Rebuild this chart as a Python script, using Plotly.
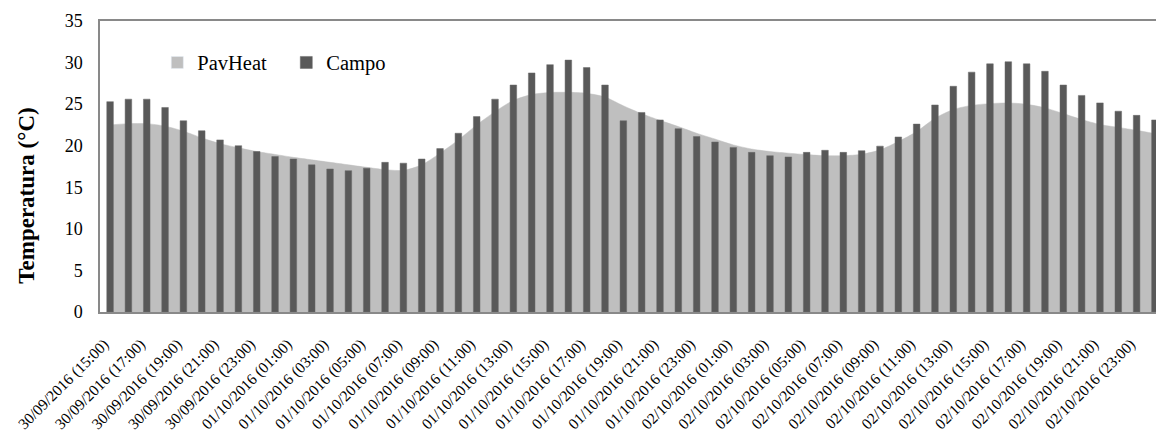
import plotly.graph_objects as go

categories = [
    "30/09/2016 (15:00)", "30/09/2016 (16:00)", "30/09/2016 (17:00)", "30/09/2016 (18:00)",
    "30/09/2016 (19:00)", "30/09/2016 (20:00)", "30/09/2016 (21:00)", "30/09/2016 (22:00)",
    "30/09/2016 (23:00)",
    "01/10/2016 (00:00)", "01/10/2016 (01:00)", "01/10/2016 (02:00)", "01/10/2016 (03:00)",
    "01/10/2016 (04:00)", "01/10/2016 (05:00)", "01/10/2016 (06:00)", "01/10/2016 (07:00)",
    "01/10/2016 (08:00)", "01/10/2016 (09:00)", "01/10/2016 (10:00)", "01/10/2016 (11:00)",
    "01/10/2016 (12:00)", "01/10/2016 (13:00)", "01/10/2016 (14:00)", "01/10/2016 (15:00)",
    "01/10/2016 (16:00)", "01/10/2016 (17:00)", "01/10/2016 (18:00)", "01/10/2016 (19:00)",
    "01/10/2016 (20:00)", "01/10/2016 (21:00)", "01/10/2016 (22:00)", "01/10/2016 (23:00)",
    "02/10/2016 (00:00)", "02/10/2016 (01:00)", "02/10/2016 (02:00)", "02/10/2016 (03:00)",
    "02/10/2016 (04:00)", "02/10/2016 (05:00)", "02/10/2016 (06:00)", "02/10/2016 (07:00)",
    "02/10/2016 (08:00)", "02/10/2016 (09:00)", "02/10/2016 (10:00)", "02/10/2016 (11:00)",
    "02/10/2016 (12:00)", "02/10/2016 (13:00)", "02/10/2016 (14:00)", "02/10/2016 (15:00)",
    "02/10/2016 (16:00)", "02/10/2016 (17:00)", "02/10/2016 (18:00)", "02/10/2016 (19:00)",
    "02/10/2016 (20:00)", "02/10/2016 (21:00)", "02/10/2016 (22:00)", "02/10/2016 (23:00)",
    "03/10/2016 (00:00)",
]

pavheat = [
    22.5, 22.65, 22.65, 22.35, 21.75, 20.95, 20.25, 19.75, 19.3, 18.95, 18.6, 18.3,
    18.0, 17.7, 17.4, 17.12, 17.04, 17.7, 19.1, 20.7, 22.5, 24.1, 25.45, 26.15,
    26.4, 26.42, 26.3, 25.85, 24.8, 23.85, 23.05, 22.3, 21.5, 20.8, 20.1, 19.6,
    19.3, 19.1, 18.93, 18.8, 18.8, 18.97, 19.5, 20.5, 21.7, 23.3, 24.35, 24.85,
    25.06, 25.14, 24.98, 24.55, 23.86, 23.15, 22.55, 22.2, 21.85, 21.45,
]

campo = [
    25.3, 25.6, 25.6, 24.6, 23.0, 21.8, 20.7, 20.0, 19.3, 18.7, 18.4, 17.7,
    17.2, 17.0, 17.3, 18.0, 17.9, 18.4, 19.65, 21.5, 23.5, 25.6, 27.3, 28.75,
    29.75, 30.3, 29.4, 27.3, 23.0, 24.0, 23.1, 22.05, 21.1, 20.45, 19.8, 19.2,
    18.8, 18.65, 19.2, 19.45, 19.2, 19.4, 19.95, 21.05, 22.6, 24.9, 27.15, 28.85,
    29.85, 30.1, 29.85, 28.95, 27.3, 26.05, 25.15, 24.15, 23.65, 23.1,
]

y_ticks = [0, 5, 10, 15, 20, 25, 30, 35]
tick_labels = categories[:-1:2]
y_title = "Temperatura (°C)"

AREA = "#BFBFBF"
BAR = "#595959"
FONT = "Liberation Serif, Times New Roman, serif"

fig = go.Figure()

fig.add_trace(go.Scatter(
    x=categories, y=pavheat, mode="lines",
    line=dict(color=AREA, width=0.5, shape="spline", smoothing=0.8),
    fill="tozeroy", fillcolor=AREA, showlegend=False, hoverinfo="skip",
    xaxis="x", yaxis="y",
))

# legend proxy for the area series
fig.add_trace(go.Bar(
    x=[None], y=[None], name="PavHeat", marker=dict(color=AREA),
    xaxis="x", yaxis="y2",
))

fig.add_trace(go.Bar(
    x=categories, y=campo, name="Campo", width=0.36,
    marker=dict(color=BAR, line=dict(color="#6a6a6a", width=0.5)),
    xaxis="x", yaxis="y2",
))

# the page body adds an 8px offset, so the figure is sized to fit inside it
fig.update_layout(
    width=1156, height=426,
    margin=dict(l=92, r=3, t=13, b=122),
    paper_bgcolor="white", plot_bgcolor="white",
    font=dict(family=FONT, color="black"),
    barmode="overlay",
    showlegend=True,
    legend=dict(
        orientation="h", x=0.054, y=0.857, xanchor="left", yanchor="middle",
        font=dict(size=20.5, family=FONT), bgcolor="rgba(0,0,0,0)",
        entrywidth=84, entrywidthmode="pixels", traceorder="normal",
    ),
    xaxis=dict(
        type="category", categoryorder="array", categoryarray=categories,
        range=[-0.55, 57.33], automargin=False,
        tickmode="array", tickvals=tick_labels, ticktext=tick_labels,
        tickangle=-45, tickfont=dict(size=15.5, family=FONT),
        showgrid=False, zeroline=False,
        showline=True, linecolor="#898989", linewidth=2, mirror=True,
        ticks="", ticklabelstandoff=15, ticklabelshift=-6,
    ),
    yaxis=dict(
        range=[0, 35], tickvals=y_ticks, ticktext=[str(v) for v in y_ticks],
        tickfont=dict(size=18, family=FONT), automargin=False,
        showgrid=False, zeroline=False,
        showline=True, linecolor="#898989", linewidth=1.5, mirror=True,
        ticks="", ticklabelstandoff=12,
    ),
    yaxis2=dict(
        range=[0, 35], overlaying="y", visible=False, showgrid=False, zeroline=False,
    ),
    annotations=[dict(
        text="<b>" + y_title + "</b>", xref="paper", yref="paper",
        x=-0.069, y=0.399, xanchor="center", yanchor="middle",
        textangle=-90, showarrow=False, font=dict(size=23, family=FONT),
    )],
)

fig.write_html("out.html")
